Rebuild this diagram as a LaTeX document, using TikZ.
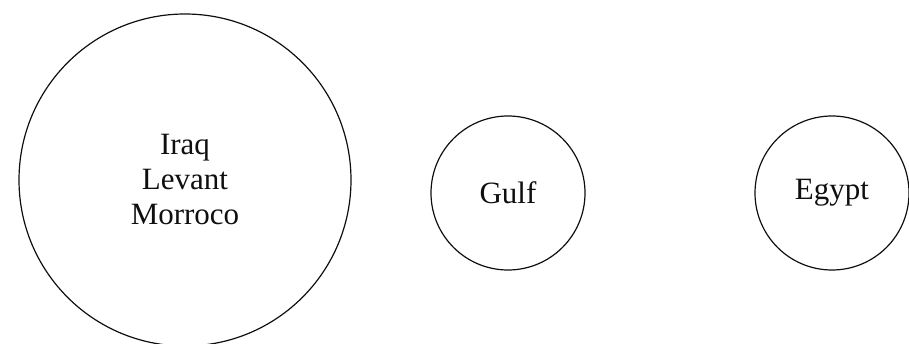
\documentclass[tikz,border=0pt]{standalone}
\usepackage{fontspec}
\setmainfont{Liberation Serif}
\usepackage{xcolor}
\usetikzlibrary{positioning}
\definecolor{dialectInk}{RGB}{15,15,15}

\begin{document}
\begin{tikzpicture}[x=1pt,y=-1pt,
  region/.style={circle,draw=dialectInk,line width=1.2pt,text=dialectInk,
    font=\fontsize{31}{35}\selectfont,align=center,inner sep=0pt}]
\useasboundingbox (0,0) rectangle (909,344);
\node[region,minimum size=332pt] (west) at (185,180) {Iraq\\Levant\\Morroco};
\node[region,minimum size=154pt] (gulf) at (508,193) {Gulf};
\node[region,minimum size=154pt] (egypt) at (832,193) {Egypt};
\end{tikzpicture}
\end{document}
